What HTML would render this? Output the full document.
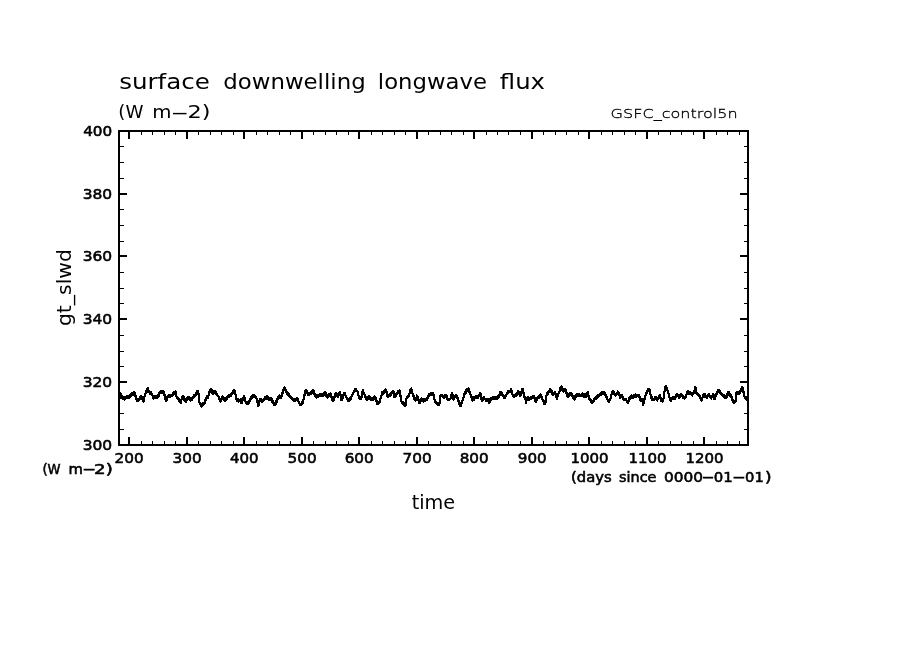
<!DOCTYPE html>
<html><head><meta charset="utf-8"><title>surface downwelling longwave flux</title>
<style>html,body{margin:0;padding:0;background:#fff}svg{display:block}</style>
</head><body>
<svg width="904" height="654" viewBox="0 0 904 654">
<rect width="904" height="654" fill="#fff"/>
<g shape-rendering="crispEdges" stroke="#000" fill="none">
<rect x="119" y="131" width="629" height="314" stroke-width="2"/>
<path d="M129 131v8M129 445v-8M187 131v8M187 445v-8M244 131v8M244 445v-8M302 131v8M302 445v-8M359 131v8M359 445v-8M417 131v8M417 445v-8M474 131v8M474 445v-8M532 131v8M532 445v-8M589 131v8M589 445v-8M647 131v8M647 445v-8M704 131v8M704 445v-8M119 382h8M748 382h-8M119 319h8M748 319h-8M119 256h8M748 256h-8M119 194h8M748 194h-8" stroke-width="2"/>
<path d="M141.5 131v4M141.5 445v-4M152.5 131v4M152.5 445v-4M164.5 131v4M164.5 445v-4M175.5 131v4M175.5 445v-4M198.5 131v4M198.5 445v-4M210.5 131v4M210.5 445v-4M221.5 131v4M221.5 445v-4M233.5 131v4M233.5 445v-4M256.5 131v4M256.5 445v-4M267.5 131v4M267.5 445v-4M279.5 131v4M279.5 445v-4M290.5 131v4M290.5 445v-4M313.5 131v4M313.5 445v-4M325.5 131v4M325.5 445v-4M336.5 131v4M336.5 445v-4M348.5 131v4M348.5 445v-4M371.5 131v4M371.5 445v-4M382.5 131v4M382.5 445v-4M394.5 131v4M394.5 445v-4M405.5 131v4M405.5 445v-4M428.5 131v4M428.5 445v-4M440.5 131v4M440.5 445v-4M451.5 131v4M451.5 445v-4M463.5 131v4M463.5 445v-4M486.5 131v4M486.5 445v-4M497.5 131v4M497.5 445v-4M508.5 131v4M508.5 445v-4M520.5 131v4M520.5 445v-4M543.5 131v4M543.5 445v-4M555.5 131v4M555.5 445v-4M566.5 131v4M566.5 445v-4M578.5 131v4M578.5 445v-4M601.5 131v4M601.5 445v-4M612.5 131v4M612.5 445v-4M624.5 131v4M624.5 445v-4M635.5 131v4M635.5 445v-4M658.5 131v4M658.5 445v-4M670.5 131v4M670.5 445v-4M681.5 131v4M681.5 445v-4M693.5 131v4M693.5 445v-4M716.5 131v4M716.5 445v-4M727.5 131v4M727.5 445v-4M739.5 131v4M739.5 445v-4M119 429.5h5M748 429.5h-4M119 413.5h5M748 413.5h-4M119 398.5h5M748 398.5h-4M119 366.5h5M748 366.5h-4M119 351.5h5M748 351.5h-4M119 335.5h5M748 335.5h-4M119 303.5h5M748 303.5h-4M119 288.5h5M748 288.5h-4M119 272.5h5M748 272.5h-4M119 241.5h5M748 241.5h-4M119 225.5h5M748 225.5h-4M119 209.5h5M748 209.5h-4M119 178.5h5M748 178.5h-4M119 162.5h5M748 162.5h-4M119 146.5h5M748 146.5h-4" stroke-width="1"/>
<path d="M119.4 392.4L120.0 394.5L120.5 393.6L121.1 396.7L121.6 396.8L122.2 396.4L122.7 398.9L123.3 397.5L123.8 399.0L124.4 399.5L125.0 396.9L125.5 398.4L126.1 396.8L126.6 395.9L127.1 398.0L127.6 396.0L128.1 398.1L128.6 396.2L129.2 397.3L129.8 397.6L130.3 394.9L130.9 396.3L131.5 393.6L132.1 394.9L132.7 393.3L133.3 392.4L133.8 394.5L134.4 392.6L134.9 393.7L135.5 396.5L136.0 396.3L136.6 400.0L137.1 400.8L137.7 399.2L138.3 400.6L138.9 399.0L139.4 399.5L140.0 397.0L140.5 398.4L141.0 395.9L141.6 396.4L142.1 397.1L142.7 400.9L143.3 401.7L143.9 400.6L144.4 396.5L145.0 396.4L145.5 393.3L146.1 391.3L146.6 392.3L147.1 389.4L147.7 390.4L148.2 388.4L148.6 391.4L149.1 392.4L149.6 391.5L150.2 393.6L150.7 391.7L151.3 392.8L151.8 395.3L152.4 394.7L152.9 398.1L153.5 398.6L154.1 396.7L154.7 397.8L155.3 395.9L155.8 397.4L156.4 395.8L156.9 398.3L157.5 397.7L158.0 395.4L158.6 396.0L159.1 392.7L159.7 392.4L160.3 393.2L160.9 391.1L161.5 392.9L162.0 390.8L162.6 392.6L163.2 391.5L163.7 392.1L164.3 395.6L164.8 395.1L165.3 398.7L165.8 398.2L166.3 400.8L166.9 400.3L167.5 396.8L168.1 396.4L168.7 395.2L169.3 397.1L169.9 394.9L170.5 396.8L171.0 394.6L171.6 395.5L172.2 395.8L172.8 393.2L173.4 394.5L174.0 391.8L174.6 393.2L175.2 391.5L175.8 392.3L176.4 396.0L176.9 396.8L177.5 398.7L178.1 397.6L178.7 400.5L179.2 399.4L179.8 402.2L180.4 401.1L180.9 403.0L181.5 399.6L182.1 399.3L182.7 395.9L183.2 397.9L183.7 396.8L184.2 399.8L184.8 398.8L185.3 401.7L185.8 401.7L186.4 399.6L186.9 400.5L187.5 397.4L188.0 397.3L188.5 398.7L189.0 397.1L189.6 399.6L190.1 398.0L190.6 400.5L191.1 399.9L191.7 398.2L192.2 399.5L192.8 396.8L193.3 398.1L193.9 395.4L194.4 396.7L195.0 395.0L195.5 395.4L196.0 392.7L196.6 394.1L197.1 391.4L197.6 392.7L198.1 391.1L198.8 395.6L199.4 402.1L199.9 404.2L200.4 403.3L200.9 406.4L201.4 406.6L201.9 404.7L202.4 405.8L202.9 402.9L203.4 403.0L204.0 404.2L204.6 402.3L205.2 403.4L205.6 399.6L206.1 397.7L206.6 398.5L207.2 396.3L207.7 398.0L208.3 396.8L208.9 393.2L209.6 391.5L210.2 391.6L210.8 388.7L211.4 388.9L211.8 390.3L212.3 393.7L212.8 394.1L213.4 391.4L213.9 392.7L214.5 391.1L215.0 390.7L215.5 393.3L216.1 391.9L216.6 394.5L217.1 394.2L217.7 396.4L218.3 395.7L218.9 398.9L219.5 398.2L220.1 401.4L220.7 401.7L221.2 398.9L221.8 399.1L222.4 396.4L223.0 398.3L223.5 397.1L224.0 400.0L224.6 398.9L225.1 400.8L225.6 399.1L226.1 400.3L226.6 397.6L227.2 398.8L227.7 396.1L228.2 396.4L228.7 397.1L229.2 394.9L229.7 396.7L230.2 394.5L230.8 396.3L231.3 395.0L231.8 393.2L232.3 394.3L232.8 391.4L233.3 392.5L233.9 389.6L234.4 389.7L235.0 393.8L235.6 394.9L236.2 399.0L236.7 398.4L237.2 400.8L237.7 399.1L238.2 401.5L238.7 399.9L239.2 401.2L239.9 401.1L240.6 399.0L241.0 400.2L241.5 403.4L242.0 403.0L242.5 399.6L243.1 400.2L243.6 396.8L244.1 396.4L244.7 397.4L245.3 401.5L245.9 402.6L246.4 403.8L247.0 402.0L247.5 404.2L248.1 403.4L248.7 401.5L249.2 402.5L249.8 399.5L250.3 400.5L250.9 397.5L251.4 398.5L252.0 395.5L252.5 395.5L253.1 396.8L253.7 395.1L254.3 397.4L254.9 395.7L255.5 398.0L256.1 397.3L256.6 398.4L257.2 402.5L257.7 402.6L258.3 405.7L258.9 404.6L259.4 400.5L260.0 399.5L260.6 398.8L261.1 401.2L261.6 399.5L262.2 401.9L262.7 401.2L263.3 401.4L263.9 398.6L264.5 399.8L265.1 397.0L265.6 398.2L266.2 396.4L266.8 396.0L267.3 398.7L267.9 397.4L268.4 399.0L269.0 400.0L269.5 398.0L270.0 400.0L270.6 398.0L271.1 399.0L271.7 398.9L272.2 401.8L272.8 400.7L273.3 403.6L273.9 402.5L274.4 405.3L275.0 405.2L275.6 404.7L276.2 401.3L276.8 401.8L277.4 398.3L278.0 398.8L278.5 396.4L279.1 395.5L279.6 397.7L280.1 395.9L280.7 398.1L281.2 397.3L281.7 396.6L282.2 393.0L282.7 393.4L283.3 389.8L283.8 390.1L284.3 387.5L284.8 387.5L285.4 390.5L285.9 389.4L286.4 392.4L286.9 392.4L287.5 394.2L288.1 393.0L288.7 395.8L289.3 394.6L289.9 397.4L290.5 397.3L291.0 396.7L291.6 399.1L292.1 397.6L292.7 399.0L293.2 400.5L293.8 398.9L294.3 401.4L294.8 399.8L295.4 401.2L295.9 399.1L296.5 399.9L297.1 397.7L297.6 400.0L298.2 399.2L298.7 402.5L299.2 401.7L299.7 405.0L300.2 405.2L300.8 403.6L301.3 405.0L301.8 402.4L302.3 403.7L302.9 402.1L303.4 400.5L304.0 395.8L304.5 395.2L305.1 391.5L305.8 390.1L306.4 390.6L307.0 393.1L307.6 392.6L308.2 395.0L308.7 393.6L309.3 395.2L309.8 392.7L310.4 393.3L310.9 393.7L311.5 391.2L312.0 392.7L312.5 390.1L313.1 390.6L313.6 390.9L314.1 394.1L314.6 393.3L315.2 396.6L315.7 396.8L316.3 397.6L316.9 395.4L317.5 397.1L318.1 394.9L318.7 396.7L319.2 395.5L319.8 394.4L320.4 396.3L321.0 394.3L321.6 396.2L322.2 394.1L322.8 395.0L323.3 395.6L323.9 393.2L324.4 394.7L324.9 392.3L325.4 392.8L326.0 393.3L326.6 396.8L327.2 397.3L327.7 397.6L328.2 394.9L328.8 396.3L329.3 393.6L329.8 394.9L330.3 393.3L330.8 393.9L331.4 397.5L331.9 397.1L332.4 400.6L333.0 401.2L333.5 400.6L334.0 397.1L334.6 397.5L335.1 393.9L335.6 393.3L336.2 393.3L336.8 396.3L337.4 396.4L337.9 396.6L338.4 393.8L339.0 395.0L339.5 392.2L340.0 392.4L340.7 395.4L341.4 400.4L341.9 400.1L342.4 396.8L342.9 397.6L343.4 394.3L344.0 395.1L344.5 392.8L345.1 393.2L345.7 396.5L346.2 395.8L346.8 399.1L347.4 398.5L348.0 400.8L348.5 401.3L349.0 398.8L349.6 400.2L350.1 397.7L350.6 399.2L351.1 397.7L351.7 395.5L352.2 396.3L352.8 393.1L353.3 393.9L353.9 390.7L354.4 391.5L355.0 389.3L355.6 390.6L356.1 389.0L356.7 391.3L357.2 390.6L357.8 391.6L358.3 395.6L358.9 395.6L359.4 398.6L360.0 399.4L360.5 397.1L361.1 398.9L361.6 397.7L362.3 392.7L363.0 389.7L363.6 392.7L364.1 392.6L364.7 395.5L365.3 395.6L365.8 398.7L366.4 397.8L366.9 399.9L367.6 399.1L368.3 396.4L368.8 395.9L369.3 398.4L369.9 397.0L370.4 399.5L370.9 399.0L371.5 400.0L372.0 398.0L372.6 400.0L373.1 399.0L373.8 396.7L374.5 396.4L375.1 398.7L375.7 398.0L376.2 401.4L376.8 400.7L377.4 404.0L378.0 404.3L378.6 402.3L379.2 403.3L379.8 401.2L380.3 400.1L380.9 396.0L381.4 395.9L382.0 392.8L382.5 391.7L383.1 393.6L383.6 391.5L384.2 392.4L384.8 392.5L385.4 389.6L386.0 389.7L386.6 392.1L387.3 396.4L387.8 397.1L388.3 394.8L388.9 396.5L389.4 394.2L389.9 395.9L390.4 394.6L390.9 393.0L391.4 394.4L391.9 391.8L392.5 393.2L393.0 390.6L393.5 391.1L393.9 395.2L394.4 397.3L394.9 395.5L395.4 396.7L396.0 393.9L396.5 395.1L397.0 393.3L397.6 393.8L398.1 391.4L398.6 392.9L399.2 390.5L399.7 391.1L400.3 393.6L400.9 399.1L401.5 401.7L402.0 403.2L402.6 401.8L403.2 404.4L403.7 403.0L404.3 405.5L404.9 404.1L405.4 405.7L406.1 400.5L406.8 397.3L407.3 397.9L407.9 395.6L408.4 397.3L409.0 395.9L409.5 393.1L410.1 393.2L410.6 389.3L411.2 388.4L411.9 392.1L412.5 393.7L413.0 393.9L413.6 397.1L414.1 396.3L414.6 399.4L415.1 398.6L415.6 400.8L416.3 399.1L416.9 395.5L417.5 396.5L418.1 400.5L418.6 400.5L419.2 403.4L419.8 403.0L420.3 399.5L420.9 399.0L421.5 398.5L422.0 400.9L422.6 399.4L423.1 400.8L423.7 401.5L424.2 399.2L424.8 401.0L425.4 398.7L425.9 400.4L426.5 398.1L427.0 399.9L427.6 398.6L428.2 396.1L428.8 396.6L429.3 394.2L429.9 395.2L430.5 393.2L431.0 395.2L431.6 393.2L432.2 395.2L432.8 393.2L433.3 394.2L433.9 395.1L434.4 399.0L435.0 399.9L435.6 402.4L436.2 401.9L436.8 404.3L437.3 403.3L437.8 405.3L438.4 403.3L438.9 405.3L439.4 404.3L439.9 401.4L440.3 396.4L440.9 394.8L441.5 396.2L442.1 394.6L442.7 397.1L443.4 397.7L444.0 396.0L444.5 397.4L445.1 394.7L445.6 395.0L446.1 397.1L446.7 396.2L447.2 399.2L447.7 398.3L448.3 400.4L448.9 398.8L449.4 400.2L450.0 398.6L450.6 398.3L451.1 394.9L451.7 395.6L452.3 393.3L452.9 395.4L453.6 399.5L454.1 399.3L454.7 396.0L455.2 396.8L455.8 394.6L456.4 395.0L456.9 398.5L457.5 397.9L458.0 401.4L458.6 400.8L459.1 404.2L459.7 403.7L460.2 406.1L460.8 405.9L461.3 402.7L461.9 403.5L462.4 401.2L463.0 397.9L463.6 397.5L464.2 394.2L464.7 394.4L465.3 391.7L465.8 393.0L466.3 390.3L466.9 391.6L467.4 388.8L467.9 390.1L468.4 388.4L468.9 388.8L469.4 392.3L469.9 391.7L470.4 394.2L471.0 396.8L471.5 396.5L472.1 400.1L472.6 400.8L473.2 398.9L473.7 400.0L474.3 397.1L474.8 397.3L475.4 398.3L476.0 396.3L476.6 398.3L477.2 396.3L477.8 398.3L478.4 397.3L478.9 395.3L479.5 396.3L480.0 393.3L480.6 393.3L481.2 398.3L481.9 401.2L482.5 399.1L483.0 400.0L483.6 396.9L484.1 396.8L484.7 399.3L485.3 398.8L485.9 401.2L486.4 399.8L486.9 401.4L487.5 398.9L488.0 400.5L488.5 399.0L489.0 402.6L489.5 400.6L490.0 401.6L490.6 398.6L491.1 399.7L491.6 397.7L492.2 398.8L492.8 396.8L493.4 398.9L494.0 397.0L494.6 399.1L495.2 398.1L495.8 397.0L496.4 398.8L497.0 396.7L497.5 398.6L498.1 396.4L498.7 397.3L499.3 396.5L499.9 392.7L500.5 391.9L501.1 391.7L501.6 394.5L502.2 393.2L502.8 396.0L503.3 394.7L503.9 397.5L504.5 397.3L505.1 397.7L505.7 395.1L506.2 395.5L506.8 393.0L507.4 393.5L508.0 391.1L508.6 392.5L509.2 390.9L509.8 392.4L510.3 390.4L510.8 391.3L511.3 389.3L511.8 392.7L512.3 393.0L512.9 396.4L513.4 395.3L513.9 397.1L514.5 395.0L515.0 395.9L515.6 396.3L516.1 393.7L516.7 395.0L517.3 392.4L517.8 393.8L518.4 391.1L519.0 391.5L519.6 392.7L520.3 395.9L520.9 395.2L521.4 391.4L522.0 391.6L522.5 388.9L523.1 390.2L523.7 394.6L524.3 395.9L524.9 399.1L525.5 399.4L526.1 402.6L526.7 398.9L527.4 397.3L527.9 398.8L528.5 397.4L529.0 399.9L529.6 399.5L530.2 397.9L530.7 399.4L531.3 396.8L531.8 397.3L532.4 398.0L532.9 395.8L533.5 397.6L534.0 396.4L534.7 398.0L535.4 401.7L535.9 401.9L536.4 399.1L536.9 400.3L537.5 397.5L538.0 397.7L538.5 396.3L539.0 397.8L539.6 395.4L540.1 396.9L540.6 394.5L541.1 395.0L541.7 397.7L542.2 397.4L542.8 401.0L543.3 401.7L543.9 401.4L544.5 404.2L545.1 403.9L545.7 401.8L546.3 396.7L546.9 394.6L547.5 392.7L548.0 393.8L548.6 390.9L549.2 392.1L549.8 389.2L550.4 389.3L550.9 391.5L551.5 390.8L552.0 394.0L552.5 393.2L553.0 395.5L553.6 393.3L554.2 394.1L554.8 391.9L555.4 394.6L555.9 394.3L556.5 397.9L557.0 398.6L557.6 395.8L558.1 396.0L558.7 392.3L559.2 391.5L559.8 391.2L560.4 387.8L560.9 388.5L561.5 386.2L562.1 387.0L562.6 390.7L563.2 391.5L563.8 391.6L564.4 388.7L565.0 388.9L565.5 389.4L566.1 392.9L566.6 392.4L567.1 395.9L567.6 396.4L568.2 396.9L568.8 394.3L569.4 395.8L570.0 393.3L570.6 394.8L571.2 393.3L571.7 393.3L572.2 396.3L572.7 395.4L573.3 398.4L573.8 397.4L574.3 399.5L574.8 399.3L575.4 396.0L575.9 396.8L576.5 394.6L577.1 393.7L577.6 395.9L578.2 394.0L578.8 396.1L579.4 394.2L579.9 396.4L580.5 395.5L581.0 396.2L581.5 394.0L582.1 395.7L582.6 393.4L583.1 394.2L583.7 393.9L584.2 396.7L584.8 395.5L585.4 397.3L585.9 396.9L586.5 393.6L587.0 394.3L587.6 391.9L588.2 394.0L588.9 398.1L589.5 400.0L590.1 398.8L590.7 401.6L591.2 400.4L591.8 403.2L592.4 403.0L592.9 401.0L593.5 402.1L594.0 399.1L594.5 400.1L595.0 398.1L595.5 399.0L596.1 396.8L596.6 398.6L597.1 396.4L597.6 397.3L598.2 395.2L598.8 396.2L599.4 394.2L600.0 395.0L600.6 392.8L601.1 394.6L601.7 392.4L602.3 394.2L602.8 392.0L603.4 392.8L603.9 392.3L604.5 394.7L605.0 393.2L605.5 395.6L606.1 395.0L606.6 397.7L607.2 397.4L607.7 401.0L608.3 401.7L608.8 400.0L609.4 401.4L609.9 398.7L610.5 399.0L611.1 397.7L611.7 393.3L612.3 391.9L612.9 391.1L613.4 393.2L614.0 392.4L614.7 394.9L615.4 395.5L615.9 393.9L616.4 395.3L616.9 392.7L617.4 394.1L617.9 391.5L618.5 391.9L619.0 394.9L619.6 394.8L620.2 397.7L620.8 395.8L621.4 396.9L622.0 395.0L622.5 397.4L623.1 396.7L623.6 400.0L624.2 400.4L624.8 398.8L625.4 400.2L626.0 398.6L626.6 401.2L627.1 400.8L627.7 403.4L628.3 401.0L628.8 401.6L629.3 398.2L629.9 398.8L630.4 396.4L631.0 397.4L631.6 395.5L632.2 397.6L632.8 395.7L633.4 397.7L633.9 396.8L634.4 395.0L634.9 396.3L635.4 394.6L636.0 396.8L636.5 395.1L637.0 396.4L637.6 394.9L638.2 396.5L638.8 395.0L639.4 397.5L639.9 396.9L640.5 400.4L641.0 400.8L641.7 399.1L642.4 399.5L642.8 403.1L643.2 404.8L643.8 401.4L644.3 401.0L644.8 396.6L645.4 396.2L645.9 392.8L646.5 393.2L647.1 390.5L647.6 391.8L648.2 389.2L648.8 390.5L649.4 388.9L650.1 391.6L650.8 396.4L651.3 398.2L651.8 397.0L652.3 399.8L652.9 398.6L653.4 400.4L653.9 398.6L654.5 399.9L655.0 397.2L655.5 398.5L656.1 396.8L656.7 399.6L657.4 400.4L657.9 398.3L658.4 399.2L659.0 396.2L659.5 397.1L660.0 395.0L660.7 399.1L661.4 401.2L662.0 400.1L662.5 401.9L663.1 400.8L663.7 398.1L664.2 392.5L664.8 390.8L665.4 386.2L665.9 386.2L666.4 389.1L666.9 388.1L667.5 391.1L668.0 391.1L668.5 394.1L669.1 394.1L669.6 398.2L670.1 398.2L670.7 401.2L671.2 398.9L671.8 399.6L672.4 397.3L672.9 398.5L673.5 396.8L674.0 399.1L674.5 397.3L675.0 398.6L675.6 396.4L676.1 397.1L676.7 393.9L677.2 393.7L677.8 396.2L678.4 395.7L679.0 398.1L679.5 396.0L680.1 396.9L680.6 393.8L681.2 393.7L681.7 395.8L682.3 394.9L682.9 398.0L683.4 398.1L684.0 396.9L684.5 398.7L685.1 396.5L685.6 397.3L686.3 395.8L687.0 392.4L687.5 391.5L688.1 393.5L688.7 391.6L689.2 393.6L689.8 391.7L690.4 393.8L690.9 392.8L691.6 395.2L692.3 395.5L692.9 393.2L693.4 393.8L694.0 391.5L694.7 390.3L695.4 387.1L695.8 388.7L696.2 392.4L696.8 394.0L697.3 392.6L697.8 395.2L698.4 393.9L698.9 395.5L699.4 395.5L700.0 398.4L700.5 397.4L701.0 400.4L701.5 400.4L702.1 400.0L702.6 396.7L703.1 397.4L703.7 394.0L704.2 393.7L704.8 393.7L705.3 396.7L705.9 395.7L706.4 397.7L707.0 397.9L707.5 395.1L708.1 396.4L708.6 394.6L709.2 394.5L709.7 397.4L710.3 396.3L710.8 398.1L711.4 398.4L711.9 395.7L712.4 397.0L713.0 394.3L713.5 394.6L713.9 395.8L714.4 399.0L714.9 398.8L715.5 395.5L716.1 396.2L716.7 393.0L717.2 393.7L717.8 390.4L718.4 390.2L718.9 389.8L719.4 392.4L720.0 391.0L720.5 393.7L721.0 393.3L721.6 394.9L722.1 393.6L722.7 396.3L723.2 395.9L723.8 395.3L724.3 397.6L724.8 396.0L725.4 398.3L725.9 397.7L726.4 397.6L726.9 394.4L727.5 395.2L728.0 392.1L728.5 391.9L729.1 391.8L729.6 394.7L730.1 393.6L730.6 396.5L731.1 395.4L731.6 397.3L732.2 400.0L732.8 399.8L733.4 402.6L734.0 401.3L734.5 403.1L735.1 400.9L735.6 401.7L736.1 398.3L736.5 392.8L737.0 391.9L737.5 394.0L738.0 392.0L738.6 394.1L739.1 392.2L739.6 393.3L740.1 393.0L740.7 389.8L741.2 390.6L741.7 387.3L742.3 387.1L742.8 388.0L743.3 392.0L743.9 391.9L744.4 395.9L744.9 396.8L745.5 398.4L746.0 396.9L746.6 399.5L747.1 399.0" stroke-width="2.2" stroke-linejoin="round"/>
</g>
<g font-family='"DejaVu Sans", "Liberation Sans", sans-serif' fill="#000">
<text y="89.3" font-size="22"><tspan x="119.17" textLength="90.80" lengthAdjust="spacingAndGlyphs">surface</tspan> <tspan x="223.25" textLength="142.39" lengthAdjust="spacingAndGlyphs">downwelling</tspan> <tspan x="377.83" textLength="109.14" lengthAdjust="spacingAndGlyphs">longwave</tspan> <tspan x="499.85" textLength="45.15" lengthAdjust="spacingAndGlyphs">flux</tspan></text>
<text y="118.1" font-size="18"><tspan x="118.38" textLength="25.12" lengthAdjust="spacingAndGlyphs">(W</tspan> <tspan x="152.15" textLength="19.23" lengthAdjust="spacingAndGlyphs">m</tspan><tspan x="170.51" textLength="18.56" lengthAdjust="spacingAndGlyphs">-</tspan><tspan x="187.58" textLength="23.02" lengthAdjust="spacingAndGlyphs">2)</tspan></text>
<text y="117.6" font-size="13" font-weight="200" stroke="#000" stroke-width="0.3"><tspan x="610.64" textLength="127.05" lengthAdjust="spacingAndGlyphs">GSFC_control5n</tspan></text>
<g stroke="#000" stroke-width="0.55">
<text y="449.7" font-size="14"><tspan x="82.70" textLength="29.51" lengthAdjust="spacingAndGlyphs">300</tspan></text>
<text y="386.7" font-size="14"><tspan x="82.70" textLength="29.51" lengthAdjust="spacingAndGlyphs">320</tspan></text>
<text y="323.7" font-size="14"><tspan x="82.70" textLength="29.51" lengthAdjust="spacingAndGlyphs">340</tspan></text>
<text y="260.7" font-size="14"><tspan x="82.70" textLength="29.51" lengthAdjust="spacingAndGlyphs">360</tspan></text>
<text y="198.7" font-size="14"><tspan x="82.70" textLength="29.51" lengthAdjust="spacingAndGlyphs">380</tspan></text>
<text y="135.7" font-size="14"><tspan x="83.15" textLength="29.04" lengthAdjust="spacingAndGlyphs">400</tspan></text>
<text y="463.1" font-size="14"><tspan x="114.61" textLength="29.08" lengthAdjust="spacingAndGlyphs">200</tspan></text>
<text y="463.1" font-size="14"><tspan x="172.61" textLength="29.08" lengthAdjust="spacingAndGlyphs">300</tspan></text>
<text y="463.1" font-size="14"><tspan x="230.06" textLength="28.61" lengthAdjust="spacingAndGlyphs">400</tspan></text>
<text y="463.1" font-size="14"><tspan x="287.61" textLength="29.08" lengthAdjust="spacingAndGlyphs">500</tspan></text>
<text y="463.1" font-size="14"><tspan x="344.72" textLength="28.96" lengthAdjust="spacingAndGlyphs">600</tspan></text>
<text y="463.1" font-size="14"><tspan x="402.50" textLength="29.19" lengthAdjust="spacingAndGlyphs">700</tspan></text>
<text y="463.1" font-size="14"><tspan x="459.72" textLength="28.96" lengthAdjust="spacingAndGlyphs">800</tspan></text>
<text y="463.1" font-size="14"><tspan x="517.84" textLength="28.84" lengthAdjust="spacingAndGlyphs">900</tspan></text>
<text y="463.1" font-size="14"><tspan x="570.45" textLength="38.07" lengthAdjust="spacingAndGlyphs">1000</tspan></text>
<text y="463.1" font-size="14"><tspan x="628.45" textLength="38.07" lengthAdjust="spacingAndGlyphs">1100</tspan></text>
<text y="463.1" font-size="14"><tspan x="685.45" textLength="38.07" lengthAdjust="spacingAndGlyphs">1200</tspan></text>
<text y="473.8" font-size="14"><tspan x="42.47" textLength="18.14" lengthAdjust="spacingAndGlyphs">(W</tspan> <tspan x="68.54" textLength="14.36" lengthAdjust="spacingAndGlyphs">m</tspan><tspan x="82.52" textLength="13.29" lengthAdjust="spacingAndGlyphs">-</tspan><tspan x="94.10" textLength="18.72" lengthAdjust="spacingAndGlyphs">2)</tspan></text>
<text y="482.2" font-size="13.5"><tspan x="571.10" textLength="40.60" lengthAdjust="spacingAndGlyphs">(days</tspan> <tspan x="619.05" textLength="37.40" lengthAdjust="spacingAndGlyphs">since</tspan> <tspan x="664.09" textLength="39.02" lengthAdjust="spacingAndGlyphs">0000</tspan><tspan x="702.01" textLength="12.11" lengthAdjust="spacingAndGlyphs">-</tspan><tspan x="713.82" textLength="19.00" lengthAdjust="spacingAndGlyphs">01</tspan><tspan x="732.43" textLength="12.77" lengthAdjust="spacingAndGlyphs">-</tspan><tspan x="745.03" textLength="18.77" lengthAdjust="spacingAndGlyphs">01</tspan><tspan x="764.95" textLength="6.58" lengthAdjust="spacingAndGlyphs">)</tspan></text>
</g>
<text y="508.6" font-size="20"><tspan x="411.72" textLength="43.45" lengthAdjust="spacingAndGlyphs">time</tspan></text>
<g transform="translate(71.4 325) rotate(-90)">
<text y="0" font-size="20"><tspan x="-1.12" textLength="77.05" lengthAdjust="spacingAndGlyphs">gt_slwd</tspan></text>
</g>
</g>
</svg>
</body></html>
